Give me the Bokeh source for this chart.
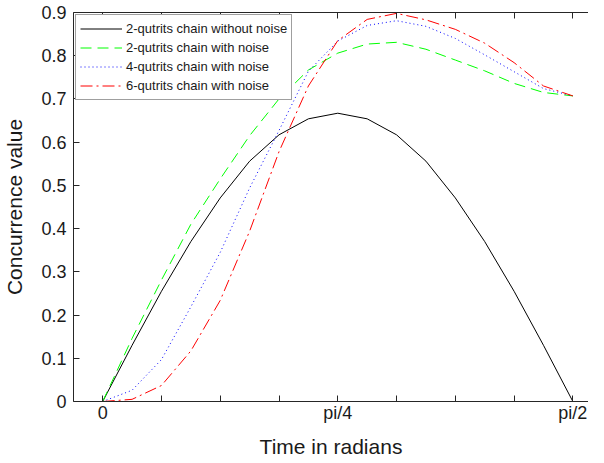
import math
from bokeh.plotting import figure
from bokeh.models import Range1d, FixedTicker, LinearAxis, Legend, LegendItem
from bokeh.embed import file_html
from bokeh.resources import INLINE

# ---- data (x in units of pi/32) ----
steps = list(range(17))  # 0 .. 16  (x = step * pi/32)
no_noise_2q = [0, 0.130, 0.255, 0.370, 0.471, 0.556, 0.617, 0.654, 0.667,
               0.654, 0.617, 0.556, 0.471, 0.370, 0.255, 0.130, 0]
noise_2q = [0, 0.146, 0.281, 0.410, 0.515, 0.615, 0.700, 0.767, 0.806,
            0.827, 0.831, 0.815, 0.790, 0.765, 0.736, 0.715, 0.707]
noise_4q = [0, 0.026, 0.097, 0.219, 0.345, 0.494, 0.627, 0.764, 0.834,
            0.870, 0.881, 0.868, 0.840, 0.802, 0.763, 0.724, 0.707]
noise_6q = [0, 0.005, 0.037, 0.117, 0.234, 0.394, 0.578, 0.730, 0.835,
            0.884, 0.898, 0.883, 0.861, 0.829, 0.784, 0.730, 0.707]

x_tick_steps = [0, 1, 2, 3, 4, 5, 6, 7, 8]          # in units of pi/16
x_tick_labels = ["0", "", "", "", "pi/4", "", "", "", "pi/2"]
y_ticks = [0, 0.1, 0.2, 0.3, 0.4, 0.5, 0.6, 0.7, 0.8, 0.9]

series_names = ["2-qutrits chain without noise", "2-qutrits chain with noise",
                "4-qutrits chain with noise", "6-qutrits chain with noise"]

FONT = "Liberation Sans"

xs = [s * math.pi / 32 for s in steps]
x_ticks = [k * math.pi / 16 for k in x_tick_steps]

p = figure(width=588, height=460, output_backend="svg", toolbar_location=None,
           x_range=Range1d(-0.0975, 1.623), y_range=Range1d(0, 0.9),
           min_border_left=64, min_border_right=0, min_border_top=7,
           min_border_bottom=20)
p.outline_line_color = None
p.grid.visible = False
p.background_fill_color = "white"

r1 = p.line(xs, no_noise_2q, line_color="black", line_width=1)
r2 = p.line(xs, noise_2q, line_color="#00ff00", line_width=1, line_dash="11 6")
r3 = p.line(xs, noise_4q, line_color="#0000ff", line_width=1, line_dash="1 3")
r4 = p.line(xs, noise_6q, line_color="#ff0000", line_width=1, line_dash="12 4 2 4")

def style_axis(ax):
    ax.axis_line_color = "#262626"
    ax.major_tick_line_color = "#262626"
    ax.minor_tick_line_color = None
    ax.major_tick_in = 6
    ax.major_tick_out = 0
    ax.major_label_text_font = FONT
    ax.major_label_text_font_size = "18px"
    ax.major_label_text_color = "#1a1a1a"
    ax.axis_label_text_font = FONT
    ax.axis_label_text_font_size = "21px"
    ax.axis_label_text_font_style = "normal"
    ax.axis_label_text_color = "#1a1a1a"

xax = p.xaxis[0]
xax.ticker = FixedTicker(ticks=x_ticks)
xax.major_label_overrides = {t: lab for t, lab in zip(x_ticks, x_tick_labels)}
xax.axis_label = "Time in radians"
style_axis(xax)
xax.major_label_standoff = 1
xax.axis_label_standoff = 9

yax = p.yaxis[0]
yax.ticker = FixedTicker(ticks=y_ticks)
yax.axis_label = "Concurrence value"
style_axis(yax)
yax.major_label_standoff = 7
yax.axis_label_standoff = 12

top = LinearAxis(ticker=FixedTicker(ticks=x_ticks), axis_label=" ")
style_axis(top)
top.major_label_overrides = {t: " " for t in x_ticks}
top.major_label_text_font_size = "2px"
top.axis_label_text_font_size = "2px"
top.major_label_standoff = 2
top.axis_label_standoff = 0
p.add_layout(top, "above")

legend = Legend(items=[LegendItem(label=n, renderers=[r]) for n, r in
                       zip(series_names, [r1, r2, r3, r4])],
                location="top_left")
legend.margin = 2
legend.padding = 4
legend.spacing = 0
legend.glyph_width = 42
legend.glyph_height = 19
legend.label_height = 19
legend.label_standoff = 4
legend.label_text_font = FONT
legend.label_text_font_size = "13px"
legend.label_text_color = "#1a1a1a"
legend.border_line_color = "#404040"
legend.border_line_width = 1.5
legend.background_fill_alpha = 1
p.add_layout(legend, "center")

open("out.html", "w").write(file_html(p, INLINE))
